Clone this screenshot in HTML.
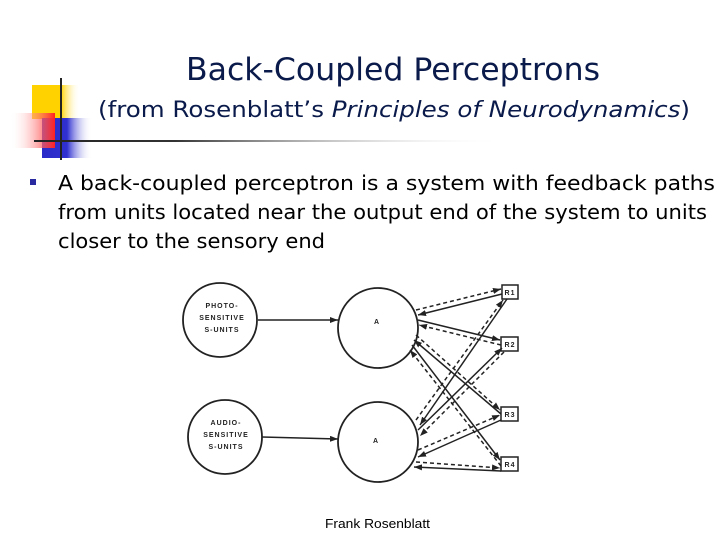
<!DOCTYPE html>
<html><head><meta charset="utf-8"><style>
html,body{margin:0;padding:0;background:#fff;}
svg{display:block;}
</style></head><body>
<svg width="720" height="540" viewBox="0 0 720 540" xmlns="http://www.w3.org/2000/svg">
<defs>
<linearGradient id="yel" x1="0" x2="1"><stop offset="0" stop-color="#ffd200"/><stop offset="0.6" stop-color="#ffd200"/><stop offset="1" stop-color="#fff" stop-opacity="0"/></linearGradient>
<linearGradient id="red" x1="1" x2="0"><stop offset="0" stop-color="#ff2020"/><stop offset="1" stop-color="#fff" stop-opacity="0"/></linearGradient>
<linearGradient id="blu" x1="0" x2="1"><stop offset="0" stop-color="#2a2ac8"/><stop offset="0.5" stop-color="#3030d0"/><stop offset="1" stop-color="#fff" stop-opacity="0"/></linearGradient>
<linearGradient id="hl" x1="0" x2="1"><stop offset="0" stop-color="#222"/><stop offset="0.3" stop-color="#333"/><stop offset="1" stop-color="#fff" stop-opacity="0"/></linearGradient>
<marker id="ah" markerWidth="8" markerHeight="6" refX="8" refY="3" orient="auto" markerUnits="userSpaceOnUse"><path d="M0,0 L8,3 L0,6 z" fill="#222"/></marker>
</defs>
<rect x="32" y="85" width="48" height="34" fill="url(#yel)"/>
<rect x="42" y="118" width="50" height="40" fill="url(#blu)"/>
<rect x="10" y="113" width="45" height="35" fill="url(#red)"/>
<line x1="61" y1="78" x2="61" y2="160" stroke="#222" stroke-width="2"/>
<rect x="34" y="140" width="470" height="2" fill="url(#hl)"/>
<g font-family="'DejaVu Sans','Liberation Sans',sans-serif" fill="#0a1a4a">
<text x="186" y="80" font-size="31" textLength="414" lengthAdjust="spacingAndGlyphs">Back-Coupled Perceptrons</text>
<text x="98" y="117" font-size="22" textLength="592" lengthAdjust="spacingAndGlyphs">(from Rosenblatt’s <tspan font-style="italic">Principles of Neurodynamics</tspan>)</text>
</g>
<rect x="30" y="179" width="6" height="6" fill="#2a2aa0"/>
<g font-family="'DejaVu Sans','Liberation Sans',sans-serif" fill="#000" font-size="20">
<text x="58" y="190" textLength="657" lengthAdjust="spacingAndGlyphs">A back-coupled perceptron is a system with feedback paths</text>
<text x="58" y="219" textLength="649" lengthAdjust="spacingAndGlyphs">from units located near the output end of the system to units</text>
<text x="58" y="248" textLength="267" lengthAdjust="spacingAndGlyphs">closer to the sensory end</text>
</g>
<g stroke="#222" stroke-width="1.5" fill="none">
<circle cx="220" cy="320" r="37" stroke-width="1.8"/>
<circle cx="225" cy="437" r="37" stroke-width="1.8"/>
<circle cx="378" cy="328" r="40" stroke-width="1.8"/>
<circle cx="378" cy="442" r="40" stroke-width="1.8"/>
<rect x="502" y="285" width="16" height="14"/>
<rect x="501" y="337" width="17" height="14"/>
<rect x="501" y="407" width="17" height="14"/>
<rect x="501" y="457" width="17" height="14"/>
<line x1="258" y1="320" x2="338" y2="320" marker-end="url(#ah)"/>
<line x1="262" y1="437" x2="338" y2="439" marker-end="url(#ah)"/>
<line x1="416" y1="310" x2="501" y2="289" stroke-dasharray="4,3" marker-end="url(#ah)"/>
<line x1="502" y1="294" x2="418" y2="315" marker-end="url(#ah)"/>
<line x1="418" y1="320" x2="500" y2="340" marker-end="url(#ah)"/>
<line x1="501" y1="345" x2="419" y2="325" stroke-dasharray="4,3" marker-end="url(#ah)"/>
<line x1="416" y1="335" x2="500" y2="410" stroke-dasharray="4,3" marker-end="url(#ah)"/>
<line x1="501" y1="414" x2="414" y2="340" marker-end="url(#ah)"/>
<line x1="412" y1="345" x2="500" y2="460" marker-end="url(#ah)"/>
<line x1="501" y1="466" x2="410" y2="350" stroke-dasharray="4,3" marker-end="url(#ah)"/>
<line x1="416" y1="420" x2="503" y2="300" stroke-dasharray="4,3" marker-end="url(#ah)"/>
<line x1="507" y1="299" x2="420" y2="425" marker-end="url(#ah)"/>
<line x1="418" y1="430" x2="502" y2="348" marker-end="url(#ah)"/>
<line x1="504" y1="352" x2="420" y2="436" stroke-dasharray="4,3" marker-end="url(#ah)"/>
<line x1="418" y1="450" x2="500" y2="415" stroke-dasharray="4,3" marker-end="url(#ah)"/>
<line x1="501" y1="420" x2="418" y2="457" marker-end="url(#ah)"/>
<line x1="416" y1="462" x2="500" y2="468" stroke-dasharray="4,3" marker-end="url(#ah)"/>
<line x1="501" y1="471" x2="414" y2="467" marker-end="url(#ah)"/>
</g>
<g font-family="'Liberation Sans',sans-serif" font-size="7" font-weight="bold" fill="#222" text-anchor="middle" letter-spacing="1">
<text x="222" y="308">PHOTO-</text>
<text x="222" y="320">SENSITIVE</text>
<text x="222" y="332">S-UNITS</text>
<text x="226" y="425">AUDIO-</text>
<text x="226" y="437">SENSITIVE</text>
<text x="226" y="449">S-UNITS</text>
<text x="377" y="324">A</text>
<text x="376" y="443">A</text>
<text x="510" y="295">R1</text>
<text x="510" y="347">R2</text>
<text x="510" y="417">R3</text>
<text x="510" y="467">R4</text>
</g>
<text x="325" y="528" font-family="'Liberation Sans',sans-serif" font-size="13" fill="#000" textLength="105" lengthAdjust="spacingAndGlyphs">Frank Rosenblatt</text>
</svg>
</body></html>
